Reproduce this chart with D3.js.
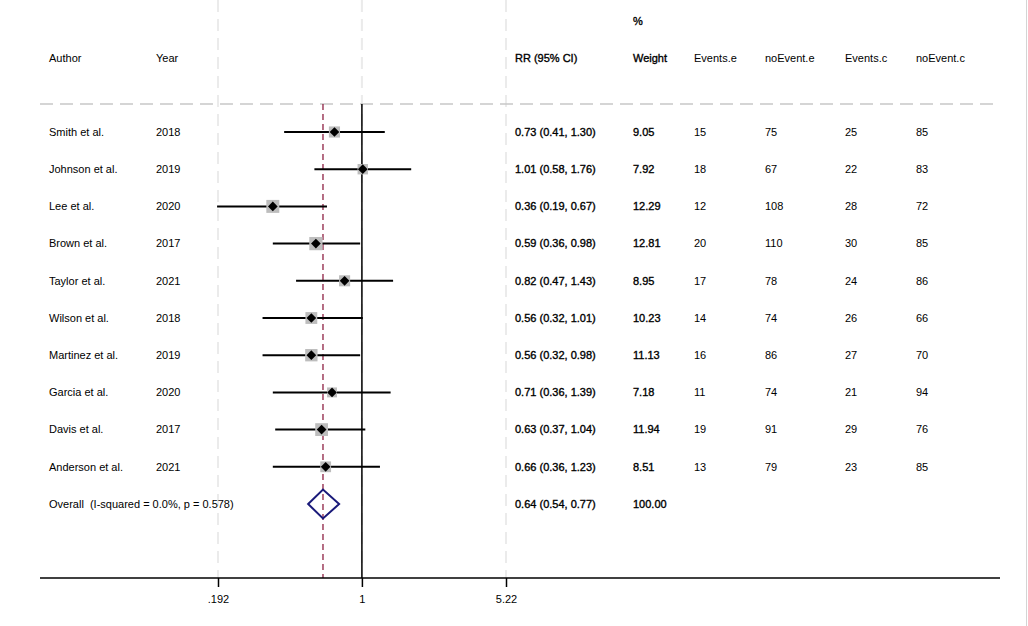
<!DOCTYPE html>
<html>
<head>
<meta charset="utf-8">
<script src="https://cdn.jsdelivr.net/npm/d3@7"></script>
<style>
  body { margin: 0; background: #fff; }
  svg { font-family: "Liberation Sans", Arial, sans-serif; font-size: 11px; }
  .semi { stroke: #000; stroke-width: 0.35px; }
</style>
</head>
<body>
<div id="chart"></div>
<script>
// 研究資料
const authors = ["Smith et al.", "Johnson et al.", "Lee et al.", "Brown et al.", "Taylor et al.",
  "Wilson et al.", "Martinez et al.", "Garcia et al.", "Davis et al.", "Anderson et al."];
const years = [2018, 2019, 2020, 2017, 2021, 2018, 2019, 2020, 2017, 2021];
const rr = [0.73, 1.01, 0.36, 0.59, 0.82, 0.56, 0.56, 0.71, 0.63, 0.66];
const lower = [0.41, 0.58, 0.19, 0.36, 0.47, 0.32, 0.32, 0.36, 0.37, 0.36];
const upper = [1.30, 1.76, 0.67, 0.98, 1.43, 1.01, 0.98, 1.39, 1.04, 1.23];
const weights = [9.05, 7.92, 12.29, 12.81, 8.95, 10.23, 11.13, 7.18, 11.94, 8.51];
const eventsE = [15, 18, 12, 20, 17, 14, 16, 11, 19, 13];
const noEventE = [75, 67, 108, 110, 78, 74, 86, 74, 91, 79];
const eventsC = [25, 22, 28, 30, 24, 26, 27, 21, 29, 23];
const noEventC = [85, 83, 72, 85, 86, 66, 70, 94, 76, 85];

// 合併結果
const overallLabel = "Overall  (I-squared = 0.0%, p = 0.578)";
const overall = { rr: 0.64, lower: 0.54, upper: 0.77, weight: "100.00" };

const tickValues = [0.192, 1, 5.22];
const tickLabels = [".192", "1", "5.22"];

const width = 1028, height = 626;

const svg = d3.select("#chart").append("svg")
  .attr("width", width).attr("height", height);

const x = d3.scaleLog().domain([0.192, 5.22]).range([218, 506]);
const y = d3.scalePoint().domain(d3.range(authors.length + 1)).range([132, 504]);

const axisY = 578, headerLineY = 104;
const fmt = d3.format(".2f");

// 灰色虛線格線
svg.selectAll(".vgrid").data(tickValues).enter().append("line")
  .attr("x1", d => x(d)).attr("x2", d => x(d))
  .attr("y1", 0).attr("y2", axisY)
  .attr("stroke", "#ebebeb").attr("stroke-width", 2)
  .attr("stroke-dasharray", "12,7");

svg.append("line")
  .attr("x1", 40).attr("x2", 1000).attr("y1", headerLineY).attr("y2", headerLineY)
  .attr("stroke", "#c8c8c8").attr("stroke-width", 1.5)
  .attr("stroke-dasharray", "13,7");

// 右邊框
svg.append("line")
  .attr("x1", 1026.5).attr("x2", 1026.5).attr("y1", 0).attr("y2", height)
  .attr("stroke", "#d4d4d4").attr("stroke-width", 1);

// 無效線 (RR = 1)
svg.append("line")
  .attr("x1", x(1)).attr("x2", x(1)).attr("y1", headerLineY).attr("y2", axisY)
  .attr("stroke", "#000").attr("stroke-width", 1.5);

// 合併效果虛線
svg.append("line")
  .attr("x1", x(overall.rr)).attr("x2", x(overall.rr))
  .attr("y1", headerLineY).attr("y2", axisY)
  .attr("stroke", "#8e2042").attr("stroke-width", 1.3)
  .attr("stroke-dasharray", "6,4");

// 各研究
const rows = svg.selectAll(".study").data(authors).enter().append("g")
  .attr("class", "study");

rows.append("line")
  .attr("x1", (d, i) => x(lower[i])).attr("x2", (d, i) => x(upper[i]))
  .attr("y1", (d, i) => y(i)).attr("y2", (d, i) => y(i))
  .attr("stroke", "#000").attr("stroke-width", 2);

rows.append("rect")
  .attr("x", (d, i) => x(rr[i]) - Math.sqrt(weights[i]) * 1.85)
  .attr("y", (d, i) => y(i) - Math.sqrt(weights[i]) * 1.85)
  .attr("width", (d, i) => Math.sqrt(weights[i]) * 3.7)
  .attr("height", (d, i) => Math.sqrt(weights[i]) * 3.7)
  .attr("fill", "#bdbdbd");

rows.append("path")
  .attr("d", d3.symbol(d3.symbolDiamond2, 60))
  .attr("transform", (d, i) => `translate(${x(rr[i])},${y(i)})`)
  .attr("fill", "#000");

// 合併菱形
const oy = y(authors.length);
svg.append("path")
  .attr("d", `M${x(overall.lower)},${oy} L${x(overall.rr)},${oy - 14.5} L${x(overall.upper)},${oy} L${x(overall.rr)},${oy + 14.5} Z`)
  .attr("fill", "none").attr("stroke", "#1a1a7a").attr("stroke-width", 2);

// 表頭
const cols = [
  { x: 49, head: "Author", bold: false },
  { x: 156, head: "Year", bold: false },
  { x: 515, head: "RR (95% CI)", bold: true },
  { x: 633, head: "Weight", bold: true },
  { x: 694, head: "Events.e", bold: false },
  { x: 765, head: "noEvent.e", bold: false },
  { x: 845, head: "Events.c", bold: false },
  { x: 916, head: "noEvent.c", bold: false }
];

svg.selectAll(".head").data(cols).enter().append("text")
  .attr("x", d => d.x).attr("y", 58).attr("dy", "0.35em")
  .attr("class", d => d.bold ? "semi" : null)
  .attr("fill", "#000")
  .text(d => d.head);

svg.append("text").attr("x", 633).attr("y", 21).attr("dy", "0.35em")
  .attr("class", "semi").text("%");

const cellText = [
  i => authors[i],
  i => years[i],
  i => `${fmt(rr[i])} (${fmt(lower[i])}, ${fmt(upper[i])})`,
  i => fmt(weights[i]),
  i => eventsE[i],
  i => noEventE[i],
  i => eventsC[i],
  i => noEventC[i]
];

cols.forEach((c, ci) => {
  svg.selectAll(null).data(authors).enter().append("text")
    .attr("x", c.x).attr("y", (d, i) => y(i)).attr("dy", "0.35em")
    .attr("class", c.bold ? "semi" : null)
    .text((d, i) => cellText[ci](i));
});

svg.append("text").attr("x", 49).attr("y", oy).attr("dy", "0.35em")
  .style("white-space", "pre").text(overallLabel);
svg.append("text").attr("x", 515).attr("y", oy).attr("dy", "0.35em").attr("class", "semi")
  .text(`${fmt(overall.rr)} (${fmt(overall.lower)}, ${fmt(overall.upper)})`);
svg.append("text").attr("x", 633).attr("y", oy).attr("dy", "0.35em").attr("class", "semi")
  .text(overall.weight);

// X 軸
svg.append("line")
  .attr("x1", 40).attr("x2", 1000).attr("y1", axisY).attr("y2", axisY)
  .attr("stroke", "#000").attr("stroke-width", 1.5);

const xAxis = svg.append("g")
  .attr("transform", `translate(0,${axisY})`)
  .call(d3.axisBottom(x).tickValues(tickValues)
    .tickFormat((d, i) => tickLabels[i]).tickSize(9).tickPadding(8));

xAxis.select(".domain").remove();
xAxis.selectAll(".tick line").attr("stroke", "#000").attr("stroke-width", 1.5);
xAxis.selectAll(".tick text")
  .attr("font-family", "Liberation Sans, Arial, sans-serif")
  .attr("font-size", 11).attr("fill", "#000");
</script>
</body>
</html>
